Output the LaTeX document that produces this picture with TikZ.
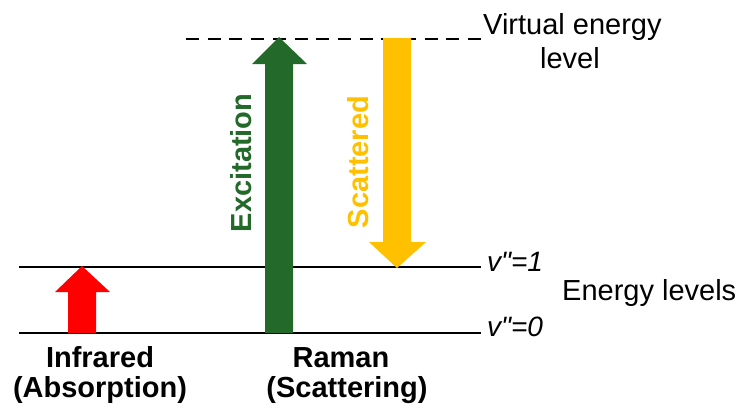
\documentclass[tikz,border=0pt]{standalone}
\usepackage{fontspec}
\setmainfont{Liberation Sans}
\newfontfamily\plainsans{Liberation Sans}[Ligatures=TeXOff]
\definecolor{exgreen}{HTML}{23692A}
\definecolor{scyellow}{HTML}{FFC000}
\definecolor{irred}{HTML}{FF0000}
\begin{document}
\begin{tikzpicture}[x=1pt,y=-1pt,
  level/.style={line width=2.9pt,black},
  txt/.style={inner sep=0pt,font=\fontsize{29}{33}\selectfont},
  boldtxt/.style={txt,font=\fontsize{29}{33}\selectfont\bfseries},
  itxt/.style={txt,font=\plainsans\fontsize{28}{32}\selectfont\itshape}]
\useasboundingbox (0,0) rectangle (741,405);

% energy levels
\coordinate (l1a) at (19,267);  \coordinate (l1b) at (481,267);
\coordinate (l0a) at (19,333);  \coordinate (l0b) at (481,333);
\coordinate (va) at (186,39);   \coordinate (vb) at (483,39);
\draw[level] (l1a) -- (l1b);
\draw[level] (l0a) -- (l0b);
\draw[level,dash pattern=on 13pt off 8.7pt] (va) -- (vb);

% infrared absorption arrow
\fill[irred] (68,333) -- (68,292) -- (55,292) -- (82,266) -- (110,292) -- (96,292) -- (96,333) -- cycle;
% excitation arrow
\fill[exgreen] (265,333) -- (265,64) -- (252,64) -- (279,37) -- (307,64) -- (293,64) -- (293,333) -- cycle;
% scattered arrow
\fill[scyellow] (383,38) -- (383,242) -- (369,242) -- (397,268) -- (426,242) -- (411,242) -- (411,38) -- cycle;

% arrow labels
\node[boldtxt,text=exgreen,rotate=90] (exc) at (241,163) {Excitation};
\node[boldtxt,text=scyellow,rotate=90] (sca) at (358,162) {Scattered};

% level labels
\node[itxt,anchor=base west] (v1) at (487,271) {v"=1};
\node[itxt,anchor=base west] (v0) at (487,336) {v"=0};
\node[txt,anchor=base west] (el) at (562,300) {Energy levels};
\node[txt,anchor=base west] (vir) at (483,34) {Virtual energy};
\node[txt,anchor=base] (vir2) at (570,68) {level};

% process labels
\node[boldtxt,anchor=base] (ir) at (100,367) {Infrared};
\node[boldtxt,anchor=base] (ir2) at (100,397) {(Absorption)};
\node[boldtxt,anchor=base] (ra) at (341,367) {Raman};
\node[boldtxt,anchor=base] (ra2) at (347,397) {(Scattering)};
\end{tikzpicture}
\end{document}
